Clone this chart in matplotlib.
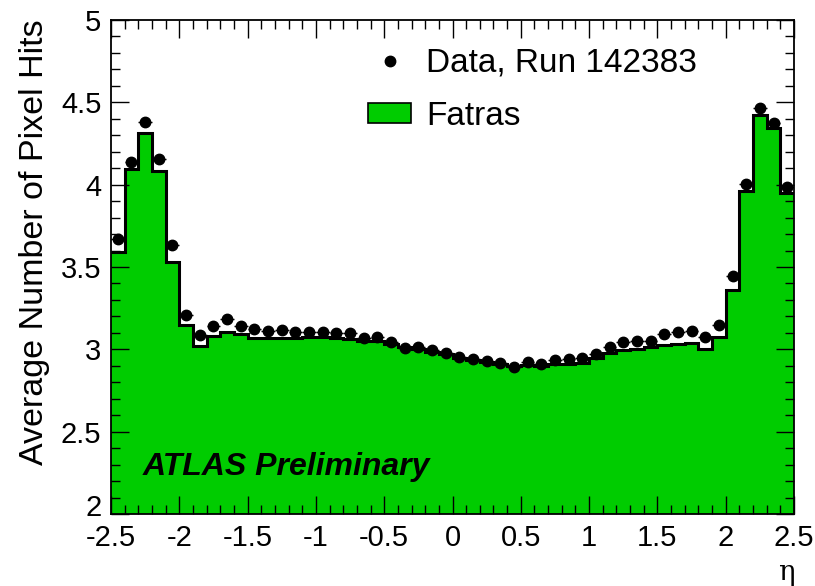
import numpy as np
import matplotlib
matplotlib.use("Agg")
import matplotlib.pyplot as plt
import matplotlib.transforms as mtransforms
from matplotlib.lines import Line2D
from matplotlib.patches import Patch
from matplotlib.ticker import MultipleLocator

plt.rcParams['font.family'] = ['Liberation Sans', 'DejaVu Sans']

# eta bin edges: 50 bins from -2.5 to 2.5
eta_edges = np.linspace(-2.5, 2.5, 51)

data_hits = [3.669, 4.138, 4.381, 4.154, 3.632,
             3.209, 3.087, 3.144, 3.185, 3.142, 3.122, 3.110, 3.118, 3.108, 3.108,
             3.108, 3.102, 3.098, 3.070, 3.077, 3.042, 3.010, 3.012, 2.996, 2.976,
             2.956, 2.942, 2.930, 2.916, 2.895, 2.922, 2.911, 2.936, 2.942, 2.950,
             2.972, 3.016, 3.042, 3.051, 3.051, 3.093, 3.107, 3.113, 3.077, 3.148,
             3.446, 4.004, 4.468, 4.372, 3.988]

fatras_hits = [3.593, 4.093, 4.312, 4.085, 3.533,
               3.150, 3.020, 3.080, 3.105, 3.095, 3.068, 3.067, 3.067, 3.070, 3.072,
               3.072, 3.068, 3.060, 3.052, 3.048, 3.035, 3.015, 3.000, 2.985, 2.970,
               2.950, 2.935, 2.925, 2.910, 2.900, 2.905, 2.900, 2.910, 2.910, 2.920,
               2.945, 2.975, 2.995, 3.005, 3.015, 3.025, 3.033, 3.037, 3.005, 3.077,
               3.360, 3.962, 4.423, 4.346, 3.951]

xticks = [-2.5, -2, -1.5, -1, -0.5, 0, 0.5, 1, 1.5, 2, 2.5]
xtick_labels = ['-2.5', '-2', '-1.5', '-1', '-0.5', '0', '0.5', '1', '1.5', '2', '2.5']
yticks = [2, 2.5, 3, 3.5, 4, 4.5, 5]
ytick_labels = ['2', '2.5', '3', '3.5', '4', '4.5', '5']

green = '#00cc00'

W, H = 815, 586
fig = plt.figure(figsize=(W / 100, H / 100), dpi=100)
L, R, T, B = 111, 794, 20, 514
ax = fig.add_axes([L / W, 1 - B / H, (R - L) / W, (B - T) / H])

centers = 0.5 * (eta_edges[:-1] + eta_edges[1:])
half_w = 0.5 * np.diff(eta_edges)

ax.stairs(fatras_hits, eta_edges, baseline=2, fill=True, color=green, lw=0, zorder=1)
ax.stairs(fatras_hits, eta_edges, baseline=None, color='black', lw=2.2, zorder=2)
ax.errorbar(centers, data_hits, xerr=half_w, fmt='o', color='black', ms=7.5,
            elinewidth=1.0, capsize=0, zorder=3)

ax.set_xlim(-2.5, 2.5)
ax.set_ylim(2, 5)
ax.set_xticks(xticks)
ax.set_xticklabels(xtick_labels)
ax.set_yticks(yticks)
ax.set_yticklabels(ytick_labels)
ax.xaxis.set_minor_locator(MultipleLocator(0.1))
ax.yaxis.set_minor_locator(MultipleLocator(0.1))
ax.tick_params(which='both', direction='in', top=True, right=True, width=1.0)
ax.tick_params(which='major', length=13, labelsize=21, pad=7)
ax.tick_params(which='minor', length=6.5)
for s in ax.spines.values():
    s.set_linewidth(1.3)

# lift the lowest y label slightly so it does not collide with the x labels
lbl0 = ax.get_yticklabels()[0]
lbl0.set_transform(lbl0.get_transform() +
                   mtransforms.ScaledTranslation(0, 9 / 100, fig.dpi_scale_trans))

fig.text(35 / W, 1 - 19 / H, 'Average Number of Pixel Hits', rotation=90,
         ha='center', va='top', fontsize=24.5)
fig.text(786 / W, 1 - 572 / H, 'η', ha='center', va='center', fontsize=20,
         family=['DejaVu Serif'])

ax.text(0.046, 0.096, 'ATLAS Preliminary', transform=ax.transAxes,
        fontsize=23, fontweight='bold', fontstyle='italic', ha='left', va='center')

handles = [Line2D([], [], marker='o', color='black', ls='none', ms=7.5),
           Patch(facecolor=green, edgecolor='black', lw=1.2)]
leg = ax.legend(handles, ['Data, Run 142383', 'Fatras'], loc='upper left',
                bbox_to_anchor=((368 - L) / (R - L), 1 - (48 - T) / (B - T)),
                frameon=False, fontsize=24, borderaxespad=0, borderpad=0,
                handlelength=1.3, handleheight=0.55, handletextpad=0.45,
                labelspacing=0.66)

fig.savefig('out.png', dpi=100)
